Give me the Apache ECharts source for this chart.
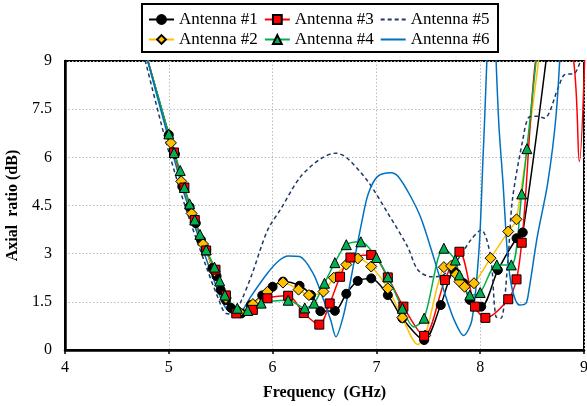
<!DOCTYPE html>
<html>
<head>
<meta charset="utf-8">
<script src="https://cdn.jsdelivr.net/npm/echarts@6/dist/echarts.min.js"></script>
<style>
  html, body { margin: 0; padding: 0; background: #fff; }
  #chart { width: 587px; height: 406px; }
</style>
</head>
<body>
<div id="chart"></div>
<script>
// Axial ratio (dB) versus frequency (GHz) for six antenna variants.
// "Freq/Ratio" arrays hold the marked samples; "TraceFreq/TraceRatio" hold
// extra curve points drawn without a marker (many lie above the 9 dB top).

const xTicks = [4, 5, 6, 7, 8, 9];
const yTicks = [0, 1.5, 3, 4.5, 6, 7.5, 9];
const seriesNames = ['Antenna #1', 'Antenna #2', 'Antenna #3', 'Antenna #4', 'Antenna #5', 'Antenna #6'];

const a1Freq  = [5.00, 5.06, 5.13, 5.20, 5.26, 5.31, 5.36, 5.42, 5.46, 5.50, 5.55, 5.60, 5.70, 5.79, 5.90, 6.00, 6.10, 6.26, 6.37, 6.46, 6.60, 6.71, 6.82, 6.95, 7.11, 7.25, 7.46, 7.62, 7.75, 7.84, 7.90, 8.01, 8.17, 8.35, 8.41];
const a1Ratio = [6.70, 6.10, 5.09, 4.46, 3.95, 3.43, 3.12, 2.55, 2.30, 1.87, 1.55, 1.31, 1.14, 1.40, 1.70, 1.97, 2.13, 2.00, 1.71, 1.21, 1.22, 1.75, 2.15, 2.23, 1.71, 0.99, 0.31, 1.40, 2.44, 2.08, 1.56, 1.35, 2.49, 3.48, 3.66];
const a1TraceFreq  = [4.76, 8.68];
const a1TraceRatio = [9.45, 10.2];

const a2Freq  = [5.02, 5.12, 5.22, 5.33, 5.44, 5.55, 5.68, 5.81, 5.95, 6.10, 6.25, 6.35, 6.49, 6.59, 6.71, 6.82, 6.95, 7.11, 7.25, 7.47, 7.65, 7.72, 7.77, 7.80, 7.85, 7.94, 8.10, 8.27, 8.35];
const a2Ratio = [6.45, 5.25, 4.25, 3.30, 2.45, 1.62, 1.18, 1.43, 1.81, 2.10, 1.88, 1.71, 1.82, 2.25, 2.66, 2.85, 2.60, 1.92, 1.01, 0.45, 2.58, 2.62, 2.35, 2.13, 1.97, 2.08, 2.86, 3.69, 4.07];
const a2TraceFreq  = [4.76, 7.40, 8.62];
const a2TraceRatio = [9.45, 0.17, 10.5];

const a3Freq  = [5.05, 5.15, 5.25, 5.36, 5.45, 5.55, 5.65, 5.81, 5.95, 6.15, 6.30, 6.45, 6.55, 6.65, 6.75, 6.95, 7.11, 7.26, 7.46, 7.66, 7.80, 7.95, 8.05, 8.27, 8.35, 8.40];
const a3Ratio = [6.15, 5.06, 4.05, 3.10, 2.50, 1.70, 1.14, 1.25, 1.61, 1.69, 1.15, 0.79, 1.45, 2.28, 2.88, 2.96, 2.26, 1.35, 0.44, 2.18, 3.06, 1.35, 1.00, 1.58, 2.20, 3.34];
const a3TraceFreq  = [4.76, 8.62, 8.87, 8.955, 9.01];
const a3TraceRatio = [9.45, 10.0, 9.6, 5.87, 9.4];

const a4Freq  = [5.00, 5.05, 5.11, 5.15, 5.20, 5.25, 5.30, 5.36, 5.44, 5.49, 5.54, 5.66, 5.76, 5.89, 6.15, 6.31, 6.40, 6.50, 6.60, 6.71, 6.85, 7.00, 7.11, 7.25, 7.46, 7.65, 7.76, 7.80, 7.90, 8.00, 8.16, 8.30, 8.40, 8.45];
const a4Ratio = [6.73, 6.15, 5.59, 5.06, 4.55, 4.05, 3.60, 3.12, 2.58, 2.15, 1.71, 1.30, 1.23, 1.46, 1.55, 1.31, 1.46, 2.08, 2.72, 3.28, 3.37, 2.88, 2.28, 1.30, 0.99, 3.17, 2.80, 2.34, 1.71, 1.79, 2.65, 2.65, 4.86, 6.27];
const a4TraceFreq  = [4.76, 7.36, 8.58];
const a4TraceRatio = [9.45, 0.72, 10.3];

const a5Freq  = [4.74, 4.96, 5.15, 5.36, 5.47, 5.55, 5.62, 5.70, 5.80, 5.95, 6.08, 6.27, 6.47, 6.61, 6.72, 6.92, 7.11, 7.30, 7.40, 7.53, 7.62, 7.78, 7.91, 8.01, 8.10, 8.15, 8.20, 8.265, 8.31, 8.41, 8.47, 8.55, 8.62, 8.75, 8.81, 8.91, 8.96, 9.01];
const a5Ratio = [9.45, 6.64, 4.55, 2.60, 1.66, 1.14, 1.12, 1.55, 2.35, 3.72, 4.40, 5.40, 5.97, 6.13, 5.97, 5.24, 4.26, 3.22, 2.49, 2.28, 2.30, 2.80, 3.43, 3.74, 2.91, 1.05, 0.99, 2.70, 4.67, 6.54, 7.25, 7.28, 7.22, 8.15, 8.57, 8.62, 8.94, 9.3];

const a6Freq  = [4.76, 5.00, 5.15, 5.31, 5.45, 5.54, 5.63, 5.70, 5.79, 5.95, 6.06, 6.15, 6.26, 6.39, 6.48, 6.56, 6.61, 6.68, 6.74, 6.80, 6.86, 6.92, 7.01, 7.14, 7.21, 7.33, 7.43, 7.55, 7.65, 7.75, 7.84, 7.92, 7.99, 8.03, 8.11, 8.18, 8.22, 8.265, 8.31, 8.38, 8.44, 8.47, 8.55, 8.65, 8.73, 8.78];
const a6Ratio = [9.45, 6.55, 4.85, 3.30, 2.05, 1.35, 1.12, 1.20, 1.66, 2.39, 2.78, 2.93, 2.91, 2.39, 1.66, 0.93, 0.41, 1.04, 1.97, 3.01, 4.00, 4.85, 5.40, 5.52, 5.40, 4.78, 4.10, 2.90, 1.85, 0.93, 0.45, 0.93, 3.20, 6.20, 11.5, 7.00, 5.19, 2.91, 1.87, 1.40, 1.45, 1.87, 3.53, 5.19, 7.27, 9.9];

const serif = 'Liberation Serif, Times New Roman, serif';

function buildPoints(freq, ratio, traceFreq, traceRatio) {
  const pts = freq.map((f, i) => ({ value: [f, ratio[i]] }));
  (traceFreq || []).forEach((f, i) => pts.push({ value: [f, traceRatio[i]], symbol: 'none' }));
  pts.sort((a, b) => a.value[0] - b.value[0]);
  return pts;
}

function markedSeries(name, data, color, symbol, size) {
  return {
    name: name,
    type: 'line',
    data: data,
    smooth: 0.3,
    clip: true,
    symbol: symbol,
    symbolSize: size,
    showAllSymbol: true,
    lineStyle: { color: color, width: 1.5 },
    itemStyle: { color: color, borderColor: '#000', borderWidth: 1 },
    emphasis: { disabled: true },
    animation: false
  };
}

function plainSeries(name, data, color, dash) {
  return {
    name: name,
    type: 'line',
    data: data,
    smooth: 0.3,
    clip: true,
    symbol: 'none',
    lineStyle: { color: color, width: 1.5, type: dash },
    itemStyle: { color: color, opacity: 0 },
    emphasis: { disabled: true },
    animation: false
  };
}

const chart = echarts.init(document.getElementById('chart'), null, { renderer: 'canvas' });

const legendText = { fontFamily: serif, fontSize: 17, color: '#000' };

chart.setOption({
  backgroundColor: '#fff',
  animation: false,
  grid: {
    left: 65, right: 3, top: 61, bottom: 56,
    outerBoundsMode: 'none', containLabel: false,
    show: true, borderColor: '#000', borderWidth: 2, backgroundColor: 'transparent'
  },
  legend: [
    {
      data: [seriesNames[0], seriesNames[2], seriesNames[4]],
      left: 148, top: 11, padding: 0,
      itemWidth: 25, itemHeight: 11, itemGap: 6,
      textStyle: legendText, selectedMode: false
    },
    {
      data: [seriesNames[1], seriesNames[3], seriesNames[5]],
      left: 148, top: 31, padding: 0,
      itemWidth: 25, itemHeight: 11, itemGap: 6,
      textStyle: legendText, selectedMode: false
    }
  ],
  graphic: [{
    type: 'rect',
    shape: { x: 142, y: 4, width: 356, height: 48 },
    style: { fill: 'none', stroke: '#000', lineWidth: 2 },
    z: 100
  }],
  xAxis: {
    type: 'value',
    min: xTicks[0], max: xTicks[xTicks.length - 1], interval: 1,
    name: 'Frequency  (GHz)',
    nameLocation: 'middle', nameGap: 35,
    nameTextStyle: { fontFamily: serif, fontSize: 16, fontWeight: 'bold', color: '#000' },
    axisLine: { show: true, lineStyle: { color: '#000', width: 2.5 } },
    axisTick: { show: true, length: 4, lineStyle: { color: '#000', width: 1.5 } },
    axisLabel: { fontFamily: serif, fontSize: 16, color: '#000', margin: 10 },
    splitLine: { show: true, lineStyle: { color: '#bdbdbd', width: 1, type: [1.5, 2] } }
  },
  yAxis: {
    type: 'value',
    min: yTicks[0], max: yTicks[yTicks.length - 1], interval: 1.5,
    name: 'Axial  ratio (dB)',
    nameLocation: 'middle', nameGap: 42, nameRotate: 90,
    nameTextStyle: { fontFamily: serif, fontSize: 16, fontWeight: 'bold', color: '#000' },
    axisLine: { show: true, lineStyle: { color: '#000', width: 2.5 } },
    axisTick: { show: false },
    axisLabel: { fontFamily: serif, fontSize: 16, color: '#000', margin: 13 },
    splitLine: { show: true, lineStyle: { color: '#bdbdbd', width: 1, type: [1.5, 2] } }
  },
  series: [
    markedSeries(seriesNames[0], buildPoints(a1Freq, a1Ratio, a1TraceFreq, a1TraceRatio), '#000000', 'circle', 9),
    markedSeries(seriesNames[1], buildPoints(a2Freq, a2Ratio, a2TraceFreq, a2TraceRatio), '#ffc000', 'diamond', 11),
    markedSeries(seriesNames[2], buildPoints(a3Freq, a3Ratio, a3TraceFreq, a3TraceRatio), '#ff0000', 'rect', 9),
    markedSeries(seriesNames[3], buildPoints(a4Freq, a4Ratio, a4TraceFreq, a4TraceRatio), '#00b050', 'triangle', 10),
    plainSeries(seriesNames[4], buildPoints(a5Freq, a5Ratio), '#1f3864', [4, 3]),
    plainSeries(seriesNames[5], buildPoints(a6Freq, a6Ratio), '#0070c0', 'solid')
  ]
});
</script>
</body>
</html>
